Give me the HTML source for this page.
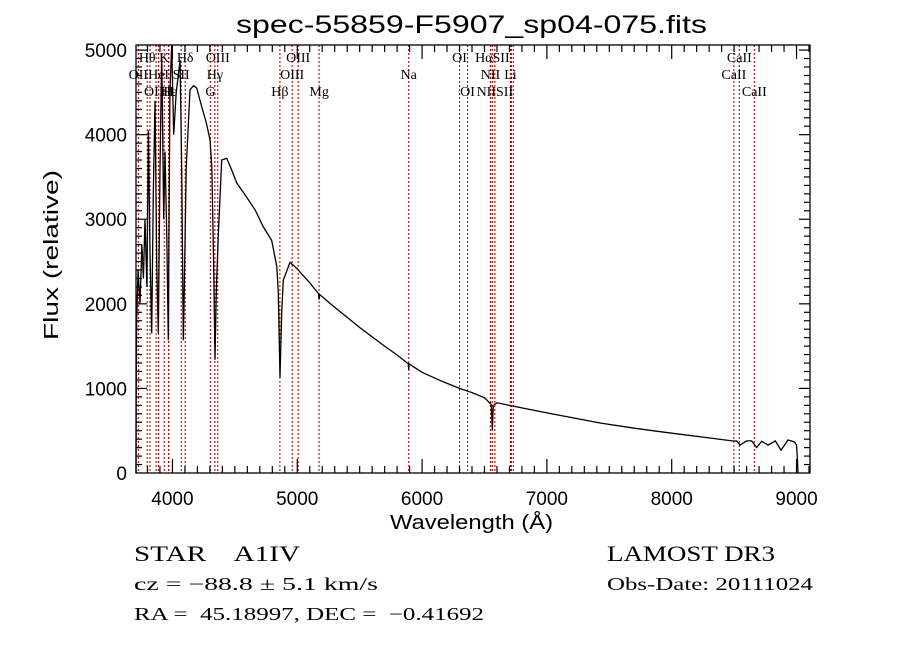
<!DOCTYPE html>
<html><head><meta charset="utf-8"><style>
body{margin:0;background:#fff;width:900px;height:649px;overflow:hidden}
svg{display:block}
.tk{font-family:"Liberation Sans",sans-serif;font-size:19px;fill:#000}
.ln{font-family:"Liberation Serif",serif;font-size:14px;fill:#000}
.info{font-family:"Liberation Serif",serif;fill:#000}
</style></head><body>
<svg id="chart" width="900" height="649" viewBox="0 0 900 649">
<text x="236" y="33" textLength="471" lengthAdjust="spacingAndGlyphs" font-family="Liberation Sans,sans-serif" font-size="25">spec-55859-F5907_sp04-075.fits</text>
<g id="lines"></g>
<g id="axes"></g>
<polyline id="spec" fill="none" stroke="#000" stroke-width="1.3"/>
<text transform="translate(58,340) rotate(-90)" textLength="170" lengthAdjust="spacingAndGlyphs" font-family="Liberation Sans,sans-serif" font-size="20">Flux (relative)</text>
<text x="390" y="529" textLength="163" lengthAdjust="spacingAndGlyphs" font-family="Liberation Sans,sans-serif" font-size="20">Wavelength (Å)</text>
<text class="info" x="134" y="561" font-size="22" textLength="166" lengthAdjust="spacingAndGlyphs" xml:space="preserve">STAR    A1IV</text>
<text class="info" x="134" y="590" font-size="18" textLength="244" lengthAdjust="spacingAndGlyphs">cz = −88.8 ± 5.1 km/s</text>
<text class="info" x="134" y="620" font-size="18" textLength="350" lengthAdjust="spacingAndGlyphs" xml:space="preserve">RA =  45.18997, DEC =  −0.41692</text>
<text class="info" x="607" y="561" font-size="22" textLength="168" lengthAdjust="spacingAndGlyphs">LAMOST DR3</text>
<text class="info" x="607" y="590" font-size="18" textLength="206" lengthAdjust="spacingAndGlyphs">Obs-Date: 20111024</text>
</svg>
<script>
const wave=[3708,3710,3713,3725,3740,3755,3767,3780,3795,3807,3820,3834,3847,3860,3874,3887,3900,3914,3930,3940,3955,3967,3980,3994,4010,4030,4061,4075,4087,4095,4110,4141,4170,4194,4234,4270,4301,4315,4330,4341,4352,4368,4395,4435,4470,4515,4595,4662,4728,4795,4836,4848,4862,4875,4888,4942,4996,5050,5100,5170,5175,5180,5250,5300,5400,5500,5600,5700,5800,5890,5893,5896,6000,6150,6300,6400,6500,6555,6563,6571,6600,6800,7000,7200,7426,7700,8000,8250,8492,8520,8547,8600,8640,8681,8720,8772,8830,8876,8932,8980,9000,9008,9012];
const flux=[0,900,1800,2400,2000,2700,2300,3000,2200,4050,2600,1650,3300,4400,2500,1650,3600,4960,3000,3800,2800,1570,4500,5100,4000,4500,4880,3500,1570,2200,3600,4530,4580,4550,4330,4150,3940,3620,2500,1340,2200,2840,3700,3720,3600,3430,3260,3110,2910,2750,2440,2130,1130,1900,2280,2490,2420,2330,2250,2120,2050,2110,2020,1960,1840,1720,1610,1500,1395,1290,1220,1290,1190,1090,1000,950,890,810,510,800,830,770,710,655,591,530,470,425,378,380,330,380,380,300,375,330,380,270,390,370,335,150,0];
const lineWave=[3727,3798,3820,3869,3889,3934,3969,3970,4070,4102,4304,4340,4363,4861,4959,5007,5175,5893,6300,6364,6548,6563,6583,6708,6716,6731,8498,8542,8662];
const labelText=["Hθ","K","Hδ","OIII","OIII","OI","HαSII","CaII","OII","HeI","SII","Hγ","OIII","Na","NII","Li","CaII","OIII","Hε","H","G","Hβ","Mg","OI","NIISII","CaII"];
const labelWave=[3798,3934,4102,4363,5007,6300,6563,8542,3727,3889,4070,4340,4959,5893,6548,6708,8498,3869,3970,3969,4304,4861,5175,6364,6583,8662];
const labelRow=[0,0,0,0,0,0,0,0,1,1,1,1,1,1,1,1,1,2,2,2,2,2,2,2,2,2];
const xTicks=[4000,5000,6000,7000,8000,9000];
const yTicks=[0,1000,2000,3000,4000,5000];
const L=136,R=810,T=45,B=473,X0=3708,X1=9108,Y0=0,Y1=5060;
const sx=w=>L+(w-X0)/(X1-X0)*(R-L);
const sy=f=>B-(f-Y0)/(Y1-Y0)*(B-T);
const NS="http://www.w3.org/2000/svg";
function mk(tag,parent,attrs){const e=document.createElementNS(NS,tag);for(const k in attrs)e.setAttribute(k,attrs[k]);parent.appendChild(e);return e;}
const lg=document.getElementById('lines');
lineWave.forEach(w=>{const e=mk('line',lg,{x1:sx(w),x2:sx(w),y1:T,y2:B,stroke:'#c00000','stroke-width':1.1,'stroke-dasharray':'2,2'});

});
labelText.forEach((t,i)=>{const e=mk('text',lg,{x:sx(labelWave[i]),y:62+labelRow[i]*17,'text-anchor':'middle',class:'ln'});e.textContent=t;

});
const ax=document.getElementById('axes');
const fr=mk('rect',ax,{x:L,y:T,width:R-L,height:B-T,fill:'none',stroke:'#000','stroke-width':1.3});


for(let w=3800;w<=9100;w+=100){const maj=w%1000===0,len=maj?14:7;
mk('line',ax,{x1:sx(w),x2:sx(w),y1:B,y2:B-len,stroke:'#000','stroke-width':1.2});
mk('line',ax,{x1:sx(w),x2:sx(w),y1:T,y2:T+len,stroke:'#000','stroke-width':1.2});}
for(let f=100;f<=5000;f+=100){const maj=f%1000===0,len=maj?11:6;
mk('line',ax,{x1:L,x2:L+len,y1:sy(f),y2:sy(f),stroke:'#000','stroke-width':1.2});
mk('line',ax,{x1:R,x2:R-len,y1:sy(f),y2:sy(f),stroke:'#000','stroke-width':1.2});}
xTicks.forEach(w=>{const e=mk('text',ax,{x:sx(w),y:505,'text-anchor':'middle',class:'tk'});e.textContent=w;

});
yTicks.forEach(f=>{const e=mk('text',ax,{x:127,y:sy(f)+7,'text-anchor':'end',class:'tk'});e.textContent=f;

});
document.getElementById('spec').setAttribute('points',wave.map((w,i)=>sx(w).toFixed(1)+','+sy(Math.min(flux[i],Y1)).toFixed(1)).join(' '));
</script>
</body></html>
